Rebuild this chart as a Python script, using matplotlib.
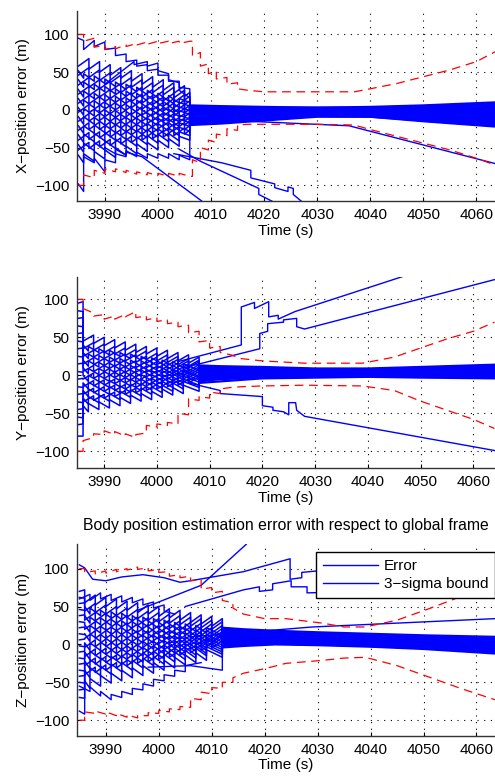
import matplotlib
matplotlib.use("Agg")
import matplotlib.pyplot as plt
from matplotlib.lines import Line2D

plt.rcParams['font.family'] = ['Liberation Sans', 'DejaVu Sans']
plt.rcParams['font.size'] = 11

# ---------------- X panel ----------------
# filter update instants (repeated time = jump); traces alternate between two sets
x_fan_ta = [3985, 3987, 3987, 3989, 3989, 3991, 3991, 3993, 3993, 3995, 3995, 3997, 3997,
            3999, 3999, 4001, 4001, 4003, 4003, 4005, 4005, 4006, 4006]
x_fan_tb = [3985, 3986, 3986, 3988, 3988, 3990, 3990, 3992, 3992, 3994, 3994, 3996, 3996,
            3998, 3998, 4000, 4000, 4002, 4002, 4004, 4004, 4006, 4006]
x_fan_v = [
    [58, 68, 54, 64, 50, 60, 46, 56, 42, 52, 38, 48, 34, 44, 30, 40, 26, 36, 22, 32, 18, 23, 6],
    [52, 42, 48, 38, 45, 35, 41, 31, 37, 27, 34, 24, 30, 20, 26, 16, 22, 12, 19, 9, 15, 10, 5],
    [46, 56, 43, 53, 39, 49, 36, 46, 33, 43, 30, 40, 26, 36, 23, 33, 20, 30, 16, 26, 13, 18, 4],
    [40, 30, 37, 27, 34, 24, 31, 21, 28, 18, 25, 15, 22, 12, 19, 9, 16, 6, 13, 3, 10, 5, 3],
    [33, 43, 30, 40, 28, 38, 25, 35, 23, 33, 20, 30, 17, 27, 15, 25, 12, 22, 10, 20, 7, 12, 2],
    [27, 17, 25, 15, 22, 12, 20, 10, 18, 8, 16, 6, 13, 3, 11, 1, 9, -1, 6, -4, 4, -1, 1],
    [21, 31, 19, 29, 17, 27, 15, 25, 13, 23, 11, 21, 9, 19, 7, 17, 5, 15, 3, 13, 1, 6, 0],
    [15, 5, 13, 3, 12, 2, 10, 0, 9, -1, 7, -3, 5, -5, 4, -6, 2, -8, 1, -9, -1, -6, -2],
    [9, 19, 8, 18, 6, 16, 5, 15, 4, 14, 3, 13, 1, 11, 0, 10, -1, 9, -3, 7, -4, 1, -4],
    [3, -7, 2, -8, 1, -9, 0, -10, -1, -11, -2, -12, -3, -13, -4, -14, -5, -15, -6, -16, -7, -12, -6],
    [-3, 7, -4, 6, -4, 6, -5, 5, -5, 5, -6, 4, -7, 3, -7, 3, -8, 2, -8, 2, -9, -4, -8],
    [-9, -19, -9, -19, -10, -20, -10, -20, -10, -20, -10, -20, -11, -21, -11, -21, -11, -21, -12, -22, -12, -17, -10],
    [-15, -5, -15, -5, -14, -4, -15, -5, -14, -4, -15, -5, -15, -5, -14, -4, -15, -5, -15, -5, -15, -10, -12],
    [-21, -31, -21, -31, -20, -30, -20, -30, -19, -29, -19, -29, -19, -29, -18, -28, -18, -28, -17, -27, -17, -22, -13],
    [-27, -17, -26, -16, -26, -16, -25, -15, -24, -14, -24, -14, -23, -13, -22, -12, -21, -11, -21, -11, -20, -15, -14],
    [-33, -43, -32, -42, -31, -41, -30, -40, -29, -39, -28, -38, -27, -37, -26, -36, -25, -35, -24, -34, -23, -28, -16],
    [-40, -30, -39, -29, -37, -27, -36, -26, -34, -24, -33, -23, -32, -22, -30, -20, -29, -19, -27, -17, -26, -21, -17],
    [-46, -56, -44, -54, -43, -53, -41, -51, -39, -49, -38, -48, -36, -46, -34, -44, -32, -42, -31, -41, -29, -34, -18],
    [-53, -43, -51, -41, -49, -39, -47, -37, -45, -35, -43, -33, -40, -30, -38, -28, -36, -26, -34, -24, -32, -27, -19],
    [-60, -70, -58, -68, -55, -65, -53, -63, -50, -60, -48, -58, -45, -55, -43, -53, -40, -50, -38, -48, -35, -40, -20],
]
x_tail_t = [4012, 4020, 4030, 4040, 4050, 4063.5]
x_tail_v = [
    [5, 4, 3, 4, 6, 10], [4, 3, 3, 3, 5, 8], [3, 2, 2, 2, 4, 6], [2, 1, 1, 1, 2, 4],
    [1, 0, 0, 0, 1, 2], [0, -1, -1, -1, 0, 0], [-1, -2, -2, -2, -2, -2],
    [-2, -3, -2, -3, -3, -4], [-4, -4, -3, -3, -4, -6], [-6, -5, -4, -4, -6, -8],
    [-7, -6, -4, -5, -7, -10], [-9, -7, -5, -5, -8, -12], [-10, -8, -5, -6, -9, -14],
    [-12, -9, -6, -6, -10, -16], [-13, -10, -6, -7, -11, -17], [-14, -11, -7, -7, -12, -18],
    [-15, -12, -7, -8, -13, -19], [-16, -13, -8, -8, -14, -20], [-17, -13, -8, -9, -14, -21],
    [-18, -14, -9, -9, -15, -22],
]
x_extra_t = [
    [3985, 3986, 3986, 3988, 3988, 3990, 3990, 3992, 3992, 3994, 3994, 3996, 3996, 3998, 3998,
     4000, 4000, 4002, 4002, 4004, 4004, 4006, 4006],
    [3990, 3995.5, 3995.5, 3998, 3998, 4000, 4000, 4002, 4002, 4004, 4004, 4006, 4006],
    [3985, 3986, 3986],
    [3986, 3988, 3988, 3990, 3990, 3992, 3992, 3994, 3994, 3997, 4008.5],
    [3990, 3992, 3992, 3994, 3994, 3996, 3996, 3998, 3998, 4000, 4000, 4002, 4002, 4004, 4004, 4006, 4006],
    [4003, 4006, 4012, 4017.5, 4017.5, 4022, 4022, 4024.5, 4024.5, 4025.5, 4025.5, 4027.2],
    [4004, 4008, 4019, 4019, 4021.8],
    [4006, 4017, 4036, 4063.5],
]
x_extra_v = [
    [95, 92, 80, 92, 84, 90, 80, 82, 72, 74, 64, 66, 58, 60, 52, 54, 46, 46, 38, 38, 30, 28, 2],
    [34, 64, 60, 64, 58, 62, 52, 48, 40, 36, 26, 16, -3],
    [-98, -108, -60],
    [-62, -70, -64, -82, -66, -70, -58, -62, -56, -62, -122],
    [-50, -58, -52, -60, -54, -62, -56, -64, -58, -64, -58, -64, -58, -66, -60, -66, -10],
    [-58, -62, -70, -80, -90, -98, -103, -108, -102, -104, -112, -122],
    [-52, -68, -104, -112, -122],
    [-12, -15, -21, -71],
]
x_bound_t = [3985, 3986, 3986, 3988, 3988, 3990, 3990, 3992, 3992, 3994, 3994, 3996, 3996,
             3998, 3998, 4000, 4000, 4002, 4002, 4004, 4004, 4006, 4006.5, 4006.5, 4008, 4008,
             4009.5, 4009.5, 4011, 4011, 4013, 4013, 4015, 4015, 4017, 4020, 4025, 4030, 4037,
             4040, 4045, 4050, 4055, 4060, 4063.5]
x_bound_hi = [100, 100, 91, 95, 83, 86, 80, 84, 81, 86, 84, 88, 86, 90, 87, 91, 88, 91, 88,
              91, 88, 91, 91, 72, 76, 58, 61, 48, 51, 41, 43, 34, 36, 28, 26, 24, 24, 24, 24,
              28, 35, 44, 53, 64, 77]
x_bound_lo = [-100, -100, -86, -90, -80, -84, -78, -82, -78, -83, -80, -85, -82, -86, -83,
              -87, -84, -88, -84, -88, -84, -88, -88, -66, -70, -50, -53, -40, -43, -32, -34,
              -25, -27, -20, -19, -19, -19, -19, -20, -26, -35, -44, -53, -64, -73]

# ---------------- Y panel ----------------
y_fan_ta = [3985, 3986, 3986, 3988, 3988, 3990, 3990, 3992, 3992, 3994, 3994, 3996, 3996,
            3998, 3998, 4000, 4000, 4002, 4002, 4004, 4004, 4006, 4006, 4008, 4008]
y_fan_tb = [3985, 3986, 3986, 3987, 3987, 3989, 3989, 3991, 3991, 3993, 3993, 3995, 3995,
            3997, 3997, 3999, 3999, 4001, 4001, 4003, 4003, 4005, 4005, 4008, 4008]
y_fan_v = [
    [95, 97, 45, 53, 42, 50, 39, 47, 36, 44, 33, 41, 30, 38, 28, 36, 25, 33, 22, 30, 19, 27, 16, 24, 13],
    [85, 84, 40, 32, 38, 30, 35, 27, 33, 25, 30, 22, 28, 20, 25, 17, 23, 15, 20, 12, 18, 10, 15, 7, 12],
    [75, 76, 35, 43, 33, 41, 30, 38, 28, 36, 26, 34, 24, 32, 21, 29, 19, 27, 17, 25, 14, 22, 12, 20, 10],
    [65, 64, 30, 22, 28, 20, 26, 18, 24, 16, 22, 14, 20, 12, 19, 11, 17, 9, 15, 7, 13, 5, 11, 3, 9],
    [55, 56, 25, 33, 24, 32, 22, 30, 20, 28, 19, 27, 17, 25, 16, 24, 14, 22, 13, 21, 11, 19, 10, 18, 8],
    [45, 44, 20, 12, 19, 11, 17, 9, 16, 8, 15, 7, 13, 5, 12, 4, 11, 3, 10, 2, 8, 0, 7, -1, 6],
    [35, 36, 15, 23, 14, 22, 13, 21, 12, 20, 11, 19, 10, 18, 10, 18, 9, 17, 8, 16, 7, 15, 6, 14, 5],
    [25, 24, 10, 2, 9, 1, 9, 1, 8, 0, 8, 0, 7, -1, 7, -1, 6, -2, 6, -2, 5, -3, 5, -3, 4],
    [15, 16, 5, 13, 5, 13, 5, 13, 4, 12, 4, 12, 4, 12, 4, 12, 4, 12, 3, 11, 3, 11, 3, 11, 3],
    [5, 4, 0, -8, 0, -8, 0, -8, 1, -7, 1, -7, 1, -7, 1, -7, 1, -7, 1, -7, 2, -6, 2, -6, 2],
    [-5, -4, -5, 3, -4, 4, -4, 4, -3, 5, -3, 5, -2, 6, -2, 6, -1, 7, -1, 7, 0, 8, 0, 8, 1],
    [-15, -16, -10, -18, -9, -17, -8, -16, -7, -15, -6, -14, -5, -13, -5, -13, -4, -12, -3, -11, -2, -10, -1, -9, 0],
    [-25, -24, -15, -7, -14, -6, -13, -5, -11, -3, -10, -2, -9, -1, -8, 0, -7, 1, -5, 3, -4, 4, -3, 5, -2],
    [-35, -36, -20, -28, -18, -26, -17, -25, -15, -23, -14, -22, -12, -20, -11, -19, -9, -17, -8, -16, -6, -14, -5, -13, -3],
    [-45, -44, -25, -17, -23, -15, -21, -13, -20, -12, -18, -10, -16, -8, -14, -6, -12, -4, -11, -3, -9, -1, -7, 1, -5],
    [-55, -56, -30, -38, -28, -36, -26, -34, -24, -32, -21, -29, -19, -27, -17, -25, -15, -23, -13, -21, -10, -18, -8, -16, -6],
    [-65, -64, -35, -27, -33, -25, -30, -22, -28, -20, -25, -17, -23, -15, -20, -12, -18, -10, -15, -7, -13, -5, -10, -2, -8],
    [-80, -80, -40, -48, -37, -45, -35, -43, -32, -40, -29, -37, -26, -34, -24, -32, -21, -29, -18, -26, -16, -24, -13, -21, -10],
]
y_tail_t = [4012, 4020, 4030, 4040, 4050, 4064]
y_tail_v = [
    [12, 11, 9, 9, 11, 14], [11, 10, 8, 8, 10, 13], [10, 9, 8, 8, 9, 12], [9, 8, 7, 7, 8, 11],
    [8, 7, 6, 6, 7, 10], [7, 6, 5, 6, 7, 9], [6, 5, 5, 5, 6, 8], [5, 5, 4, 4, 5, 7],
    [4, 4, 4, 4, 4, 6], [3, 3, 3, 3, 4, 5], [2, 3, 3, 3, 3, 4], [1, 2, 2, 2, 2, 3],
    [0, 1, 2, 2, 2, 2], [-1, 0, 1, 1, 1, 1], [-2, -1, 0, 0, 0, 0], [-4, -2, -1, -1, -1, -1],
    [-5, -3, -2, -1, -2, -2], [-8, -4, -3, -2, -3, -4],
]
y_extra_t = [
    [4004, 4016, 4016, 4018.5, 4018.5, 4021.2, 4021.2, 4023, 4023, 4026.2, 4047],
    [4005, 4008, 4019.5, 4019.5, 4021, 4021, 4024, 4024, 4026.5, 4026.5, 4028, 4064],
    [4006, 4012, 4012, 4020, 4020, 4022, 4022, 4024, 4025, 4025, 4026.3, 4026.5, 4028, 4064],
]
y_extra_v = [
    [18, 40, 90, 96, 88, 97, 77, 79, 74, 84, 131],
    [10, 15, 35, 55, 58, 68, 70, 73, 75, 64, 61, 126],
    [-10, -20, -24, -28, -40, -42, -46, -48, -52, -36, -36, -46, -54, -99],
]
y_bound_t = [3985, 3986, 3986, 3988, 3988, 3990, 3990, 3992, 3992, 3994, 3994, 3996, 3996,
             3998, 3998, 4000, 4000, 4002, 4002, 4004, 4004, 4006, 4006, 4008, 4008, 4010,
             4010, 4012, 4012, 4014, 4016, 4020, 4028, 4039, 4045, 4050, 4055, 4060, 4064]
y_bound_hi = [100, 100, 88, 82, 78, 80, 74, 78, 74, 80, 77, 84, 76, 78, 73, 76, 71, 73, 68,
              70, 64, 66, 56, 58, 44, 46, 36, 38, 30, 27, 22, 19, 16, 16, 24, 36, 48, 58, 70]
y_bound_lo = [-100, -100, -86, -82, -77, -78, -73, -78, -74, -80, -77, -82, -78, -76, -66,
              -68, -64, -66, -62, -64, -50, -52, -31, -33, -28, -30, -22, -24, -18, -16, -15,
              -14, -13, -14, -20, -34, -46, -58, -70]

# ---------------- Z panel ----------------
z_fan_ta = [3985, 3986, 3986, 3988, 3988, 3990, 3990, 3992, 3992, 3994, 3994, 3996, 3996,
            3998, 3998, 4000, 4000, 4002, 4002, 4004, 4004, 4006, 4006, 4008, 4008, 4010,
            4010, 4012, 4012]
z_fan_tb = [3985, 3986, 3986, 3987, 3987, 3989, 3989, 3991, 3991, 3993, 3993, 3995, 3995,
            3997, 3997, 3999, 3999, 4001, 4001, 4003, 4003, 4005, 4005, 4007, 4007, 4009,
            4009, 4012, 4012]
z_fan_v = [
    [70, 72, 55, 65, 52, 62, 50, 60, 47, 57, 45, 55, 42, 52, 40, 50, 37, 47, 35, 45, 32, 42, 29, 39, 27, 37, 24, 34, 22],
    [62, 61, 50, 40, 48, 38, 45, 35, 43, 33, 41, 31, 38, 28, 36, 26, 34, 24, 32, 22, 29, 19, 27, 17, 25, 15, 22, 12, 20],
    [54, 55, 44, 54, 42, 52, 40, 50, 38, 48, 36, 46, 34, 44, 32, 42, 30, 40, 28, 38, 26, 36, 24, 34, 22, 32, 20, 30, 18],
    [46, 45, 38, 28, 36, 26, 35, 25, 33, 23, 31, 21, 30, 20, 28, 18, 26, 16, 24, 14, 23, 13, 21, 11, 19, 9, 18, 8, 16],
    [38, 39, 32, 42, 31, 41, 29, 39, 28, 38, 26, 36, 25, 35, 24, 34, 22, 32, 21, 31, 19, 29, 18, 28, 17, 27, 15, 25, 14],
    [30, 29, 26, 16, 25, 15, 24, 14, 23, 13, 22, 12, 20, 10, 19, 9, 18, 8, 17, 7, 16, 6, 15, 5, 14, 4, 13, 3, 12],
    [22, 23, 20, 30, 19, 29, 18, 28, 18, 28, 17, 27, 16, 26, 15, 25, 15, 25, 14, 24, 13, 23, 12, 22, 12, 22, 11, 21, 10],
    [14, 13, 14, 4, 14, 4, 13, 3, 13, 3, 13, 3, 12, 2, 12, 2, 12, 2, 11, 1, 11, 1, 10, 0, 10, 0, 9, -1, 9],
    [6, 7, 8, 18, 8, 18, 8, 18, 8, 18, 8, 18, 8, 18, 8, 18, 8, 18, 7, 17, 7, 17, 7, 17, 7, 17, 7, 17, 7],
    [-2, -3, 2, -8, 2, -8, 3, -7, 3, -7, 3, -7, 4, -6, 4, -6, 4, -6, 5, -5, 5, -5, 5, -5, 5, -5, 6, -4, 6],
    [-10, -9, -4, 6, -3, 7, -3, 7, -2, 8, -1, 9, -1, 9, 0, 10, 1, 11, 1, 11, 2, 12, 3, 13, 3, 13, 4, 14, 5],
    [-18, -19, -10, -20, -9, -19, -8, -18, -7, -17, -6, -16, -5, -15, -4, -14, -2, -12, -1, -11, 0, -10, 1, -9, 2, -8, 3, -7, 4],
    [-26, -25, -16, -6, -15, -5, -13, -3, -12, -2, -10, 0, -9, 1, -7, 3, -6, 4, -4, 6, -3, 7, -1, 9, 0, 10, 2, 12, 3],
    [-34, -35, -22, -32, -20, -30, -18, -28, -16, -26, -15, -25, -13, -23, -11, -21, -9, -19, -7, -17, -5, -15, -4, -14, -2, -12, 0, -10, 2],
    [-42, -41, -28, -18, -26, -16, -24, -14, -21, -11, -19, -9, -17, -7, -15, -5, -12, -2, -10, 0, -8, 2, -6, 4, -3, 7, -1, 9, 1],
    [-50, -51, -34, -44, -31, -41, -29, -39, -26, -36, -24, -34, -21, -31, -18, -28, -16, -26, -13, -23, -10, -20, -8, -18, -5, -15, -3, -13, 0],
    [-60, -59, -40, -30, -37, -27, -34, -24, -31, -21, -28, -18, -25, -15, -23, -13, -20, -10, -17, -7, -14, -4, -11, -1, -8, 2, -5, 5, -2],
    [-70, -71, -48, -58, -45, -55, -41, -51, -38, -48, -34, -44, -31, -41, -28, -38, -24, -34, -21, -31, -17, -27, -14, -24, -11, -21, -7, -17, -4],
]
z_tail_t = [4016, 4022, 4030, 4040, 4050, 4063.5]
z_tail_v = [
    [20, 18, 16, 14, 12, 10], [18, 16, 14, 12, 10, 8], [16, 14, 12, 10, 8, 6],
    [14, 12, 10, 8, 6, 4], [12, 10, 8, 6, 4, 2], [11, 9, 7, 5, 3, 1], [10, 8, 6, 4, 2, 0],
    [9, 7, 5, 3, 1, -1], [8, 6, 4, 2, 0, -2], [7, 5, 3, 1, -1, -3], [6, 4, 3, 1, -1, -4],
    [5, 4, 2, 0, -2, -5], [4, 3, 2, 0, -2, -6], [3, 3, 1, -1, -3, -7], [2, 2, 1, -1, -3, -8],
    [1, 1, 0, -2, -4, -9], [0, 1, 0, -2, -5, -10], [-2, 0, -1, -3, -6, -12],
]
z_extra_t = [
    [3985, 3987, 3987, 3989, 3989, 3991, 3991, 3993, 3993, 3995, 3995, 3997, 3997, 3999, 3999,
     4001, 4001, 4003],
    [3985, 3987, 3987, 3989, 3989, 3991, 3991, 3993, 3993, 3995, 3995, 3997, 3997, 3999, 3999,
     4001, 4001, 4003, 4003, 4005, 4005, 4008],
    [3985, 3986, 3986],
    [3998, 4006, 4012, 4012, 4016],
    [3996, 4008, 4016.5],
    [3985, 3986, 3987.5, 3990, 3993, 3997, 4001, 4004, 4006, 4016, 4024.8, 4024.8, 4027, 4027,
     4030, 4063.5],
    [4005, 4016, 4019, 4019, 4021.5, 4021.5, 4025, 4025, 4028, 4028, 4034, 4063.5],
    [4006, 4029, 4063.5],
]
z_extra_v = [
    [60, 66, 58, 68, 60, 66, 58, 64, 56, 62, 55, 60, 52, 56, 48, 52, 44, 40],
    [-55, -62, -56, -68, -62, -73, -66, -70, -62, -66, -58, -60, -52, -55, -46, -48, -40, -42,
     -34, -36, -28, -24],
    [-88, -92, -40],
    [-30, -28, -34, -2, 0],
    [45, 78, 132],
    [105, 101, 86, 84, 89, 92, 88, 82, 84, 96, 113, 86, 88, 95, 97, 121],
    [50, 72, 76, 70, 72, 80, 84, 76, 76, 68, 69, 72],
    [10, 23, 34],
]
z_bound_t = [3985, 3986, 3986, 3988, 3988, 3990, 3990, 3992, 3992, 3994, 3994, 3996, 3996,
             3998, 3998, 4000, 4000, 4002, 4002, 4004, 4004, 4006, 4006, 4008, 4008, 4010,
             4010, 4012, 4012, 4014, 4014, 4016, 4020, 4024, 4031, 4035, 4039, 4045, 4051,
             4057, 4063.5]
z_bound_hi = [100, 100, 95, 97, 93, 97, 94, 99, 96, 100, 98, 102, 99, 101, 97, 99, 95, 96,
              90, 92, 88, 90, 84, 86, 73, 75, 68, 70, 58, 55, 48, 40, 34, 34, 28, 23, 23, 32,
              47, 63, 76]
z_bound_lo = [-100, -100, -89, -91, -88, -92, -89, -94, -91, -96, -93, -97, -94, -94, -90,
              -91, -87, -89, -85, -86, -82, -83, -71, -73, -63, -65, -57, -58, -50, -50, -44,
              -38, -32, -25, -21, -18, -17, -28, -43, -58, -73]

x_ticks = [3990, 4000, 4010, 4020, 4030, 4040, 4050, 4060]
y_ticks = [-100, -50, 0, 50, 100]

LW = 1.0


def draw_panel(ax, fan_ta, fan_tb, fan_v, tail_t, tail_v, ext_t, ext_v, b_t, b_hi, b_lo):
    for i, (row, tail) in enumerate(zip(fan_v, tail_v)):
        ft = fan_ta if i % 2 == 0 else fan_tb
        ax.plot(ft, row, color='b', lw=1.1)
        ax.plot([ft[-1]] + tail_t, [row[-1]] + tail, color='b', lw=1.6)
    for t, v in zip(ext_t, ext_v):
        ax.plot(t, v, color='b', lw=LW)
    for b in (b_hi, b_lo):
        ax.plot(b_t, b, color='r', lw=0.9, linestyle=(0, (7, 4.5)))


def style(ax, xlim, ylim, ylabel):
    ax.set_xlim(*xlim)
    ax.set_ylim(*ylim)
    ax.set_xticks(x_ticks)
    ax.set_yticks(y_ticks)
    ax.grid(True, color='k', lw=0.8, linestyle=(0, (1, 5)))
    ax.set_axisbelow(True)
    for s in ('top', 'right'):
        ax.spines[s].set_visible(False)
    for s in ('left', 'bottom'):
        ax.spines[s].set_color('#333333')
        ax.spines[s].set_linewidth(1.0)
    ax.tick_params(direction='in', length=3, labelsize=11, pad=5)
    ax.set_xlabel('Time (s)', fontsize=11, labelpad=1)
    ax.set_ylabel(ylabel, fontsize=11, labelpad=4)


fig = plt.figure(figsize=(4.95, 7.78), dpi=100)
ax1 = fig.add_axes([0.155, 0.7413, 0.845, 0.245])
ax2 = fig.add_axes([0.155, 0.398, 0.845, 0.2455])
ax3 = fig.add_axes([0.155, 0.0543, 0.845, 0.246])

draw_panel(ax1, x_fan_ta, x_fan_tb, x_fan_v, x_tail_t, x_tail_v, x_extra_t, x_extra_v,
           x_bound_t, x_bound_hi, x_bound_lo)
draw_panel(ax2, y_fan_ta, y_fan_tb, y_fan_v, y_tail_t, y_tail_v, y_extra_t, y_extra_v,
           y_bound_t, y_bound_hi, y_bound_lo)
draw_panel(ax3, z_fan_ta, z_fan_tb, z_fan_v, z_tail_t, z_tail_v, z_extra_t, z_extra_v,
           z_bound_t, z_bound_hi, z_bound_lo)

style(ax1, (3984.7, 4063.5), (-121, 131.5), 'X\u2212position error (m)')
style(ax2, (3984.8, 4064.1), (-122.5, 129), 'Y\u2212position error (m)')
style(ax3, (3984.5, 4063.5), (-120.5, 132), 'Z\u2212position error (m)')

ax3.set_title('Body position estimation error with respect to global frame',
              fontsize=11.3, pad=10)

handles = [Line2D([], [], color='b', lw=LW), Line2D([], [], color='b', lw=LW)]
leg = ax3.legend(handles, ['Error', '3\u2212sigma bound'], loc='upper right',
                 bbox_to_anchor=(1.0, 0.96), fontsize=11, handlelength=3.6,
                 fancybox=False, framealpha=1, borderaxespad=0, borderpad=0.45,
                 labelspacing=0.3, handletextpad=0.4)
leg.get_frame().set_edgecolor('k')
leg.get_frame().set_linewidth(1.0)

fig.savefig('out.png', dpi=100)
